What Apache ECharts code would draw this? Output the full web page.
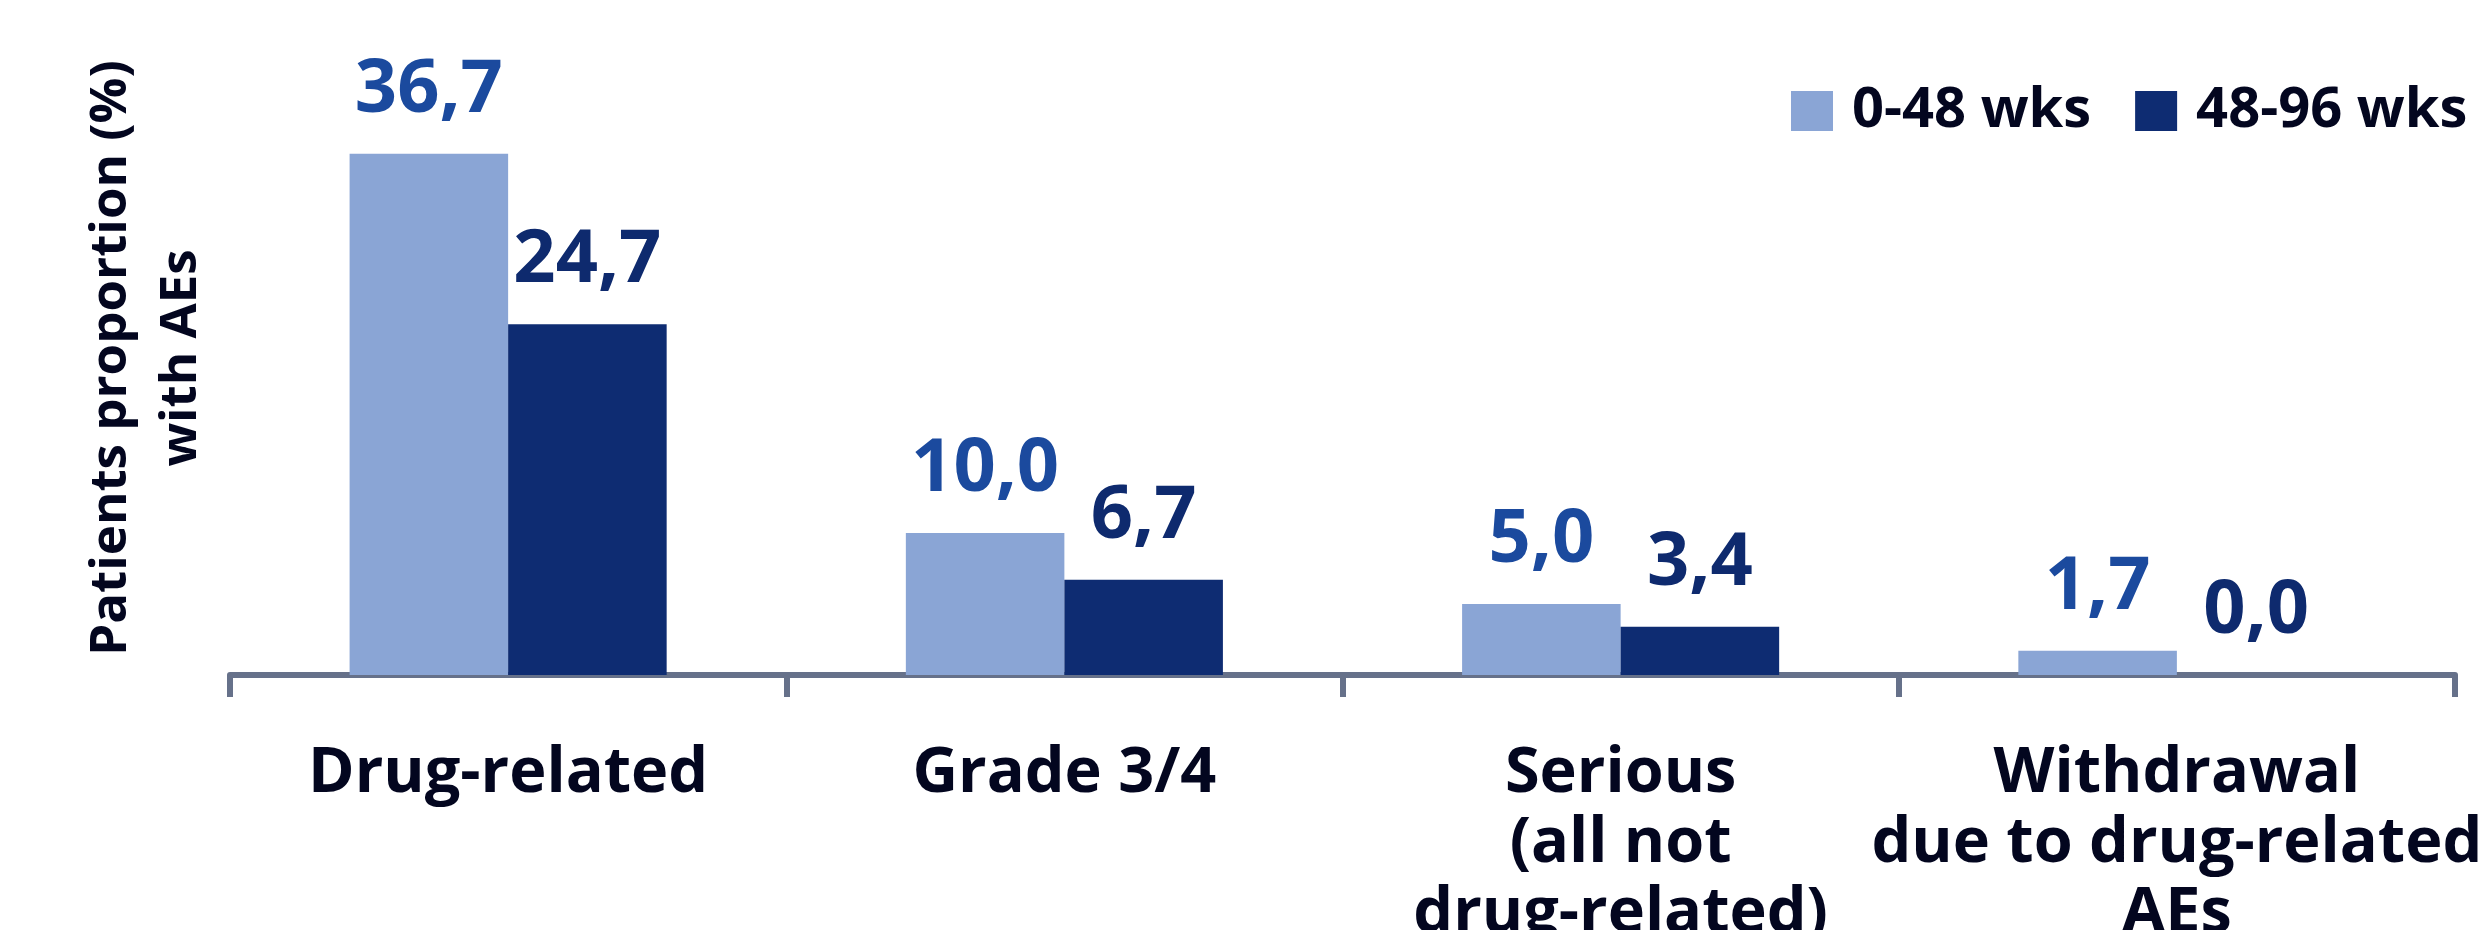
<!DOCTYPE html>
<html>
<head>
<meta charset="utf-8">
<script src="https://cdn.jsdelivr.net/npm/echarts@6/dist/echarts.min.js"></script>
<style>
  html, body { margin: 0; padding: 0; background: #fff; }
  #chart { width: 2483px; height: 930px; }
</style>
</head>
<body>
<div id="chart"></div>
<script>
  // data
  const categories = ['Drug-related', 'Grade 3/4', 'Serious\n(all not\ndrug-related)', 'Withdrawal\ndue to drug-related\nAEs']
  const seriesNames = ['0-48 wks', '48-96 wks']
  const weeks0to48 = [36.7, 10.0, 5.0, 1.7]
  const weeks48to96 = [24.7, 6.7, 3.4, 0.0]

  const font = '"Open Sans", "Noto Sans", sans-serif'
  const textDark = '#03061f'

  const chart = echarts.init(document.getElementById('chart'))

  const fmt = p => p.value.toFixed(1).replace('.', ',')

  let option = {
    animation: false,
    textStyle: { fontFamily: font },
    legend: {
      top: 78,
      left: 1786,
      itemWidth: 42,
      itemHeight: 40,
      itemGap: 44,
      icon: 'rect',
      textStyle: {
        fontFamily: font,
        fontWeight: 'bold',
        fontSize: 56,
        color: textDark,
        padding: [0, 0, 0, 14]
      },
      data: seriesNames
    },
    graphic: [
      {
        type: 'text',
        x: 146,
        y: 358,
        rotation: Math.PI / 2,
        style: {
          text: 'Patients proportion (%)\nwith AEs',
          fontFamily: font,
          fontWeight: 'bold',
          fontSize: 51,
          lineHeight: 70,
          fill: textDark,
          align: 'center',
          verticalAlign: 'middle'
        }
      }
    ],
    grid: {
      left: 230,
      right: 28,
      top: 107,
      bottom: 255,
      outerBoundsMode: 'none'
    },
    xAxis: {
      type: 'category',
      data: categories,
      axisLine: { lineStyle: { color: '#66718a', width: 6 } },
      axisTick: { show: true, length: 22, lineStyle: { color: '#66718a', width: 6 } },
      axisLabel: {
        interval: 0,
        margin: 64,
        fontFamily: font,
        fontWeight: 'bold',
        fontSize: 63,
        lineHeight: 70,
        color: textDark
      }
    },
    yAxis: {
      type: 'value',
      min: 0,
      max: 40,
      show: false
    },
    series: [
      {
        name: seriesNames[0],
        type: 'bar',
        barGap: '0%',
        barCategoryGap: '43%',
        itemStyle: { color: '#8aa5d5' },
        label: {
          show: true,
          position: 'top',
          distance: 26,
          formatter: fmt,
          fontFamily: font,
          fontWeight: 'bold',
          fontSize: 74,
          color: '#1b4a9e'
        },
        data: weeks0to48
      },
      {
        name: seriesNames[1],
        type: 'bar',
        barGap: '0%',
        barCategoryGap: '43%',
        itemStyle: { color: '#0e2c72' },
        label: {
          show: true,
          position: 'top',
          distance: 26,
          formatter: fmt,
          fontFamily: font,
          fontWeight: 'bold',
          fontSize: 74,
          color: '#0e2a6e'
        },
        data: weeks48to96
      }
    ]
  }
  chart.setOption(option)
</script>
</body>
</html>
